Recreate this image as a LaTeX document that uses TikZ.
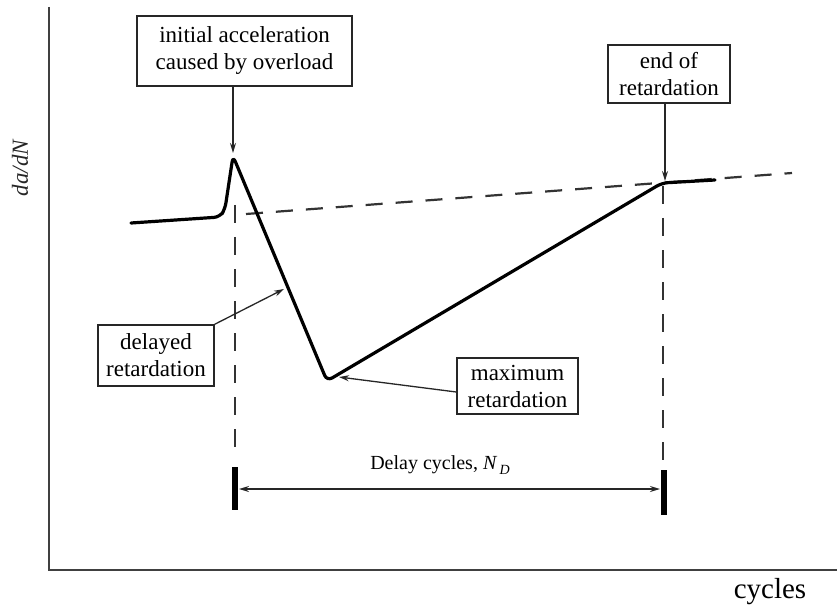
\documentclass[tikz,border=0pt]{standalone}
\usepackage{fontspec}
\setmainfont{Liberation Serif}
\usetikzlibrary{arrows.meta}
\begin{document}
\begin{tikzpicture}[x=1pt,y=-1pt,
  lbl/.style={draw=black!85, line width=1.5pt, align=center, inner sep=0pt,
    font=\fontsize{23}{27}\selectfont},
  pointer/.style={line width=1.3pt, draw=black!85, -{Stealth[length=10pt,width=6pt]}},
  curve/.style={line width=3.2pt, line join=round, line cap=round},
  dashln/.style={line width=2.2pt, draw=black!80, dash pattern=on 17pt off 13pt},
  bar/.style={line width=5.5pt},
  axis/.style={line width=2pt, draw=black!75}]
\fill[white] (0,0) rectangle (837,612);
\useasboundingbox (0,0) rectangle (837,612);
% axes
\coordinate (ytop) at (49,7);
\coordinate (orig) at (49,570);
\coordinate (xend) at (837,570);
\draw[axis] (ytop) -- (orig) -- (xend);
\node[rotate=90, font=\fontsize{23}{23}\selectfont\itshape, text=black!85] (ylab) at (20,168) {da/dN};
\node[font=\fontsize{29}{29}\selectfont] (xlab) at (770,592) {cycles};
% reference dashed line
\coordinate (d1) at (246,214);
\coordinate (d2) at (792,173);
\draw[dashln] (d1) -- (d2);
% vertical dashed lines
\coordinate (v1t) at (235,205);
\coordinate (v1b) at (235,455);
\coordinate (v2t) at (663,186);
\coordinate (v2b) at (663,460);
\draw[dashln, dash pattern=on 18pt off 14pt, line width=2pt] (v1t) -- (v1b);
\draw[dashln, dash pattern=on 18pt off 14pt, line width=2pt] (v2t) -- (v2b);
% curve
\coordinate (c0) at (131,223);
\coordinate (c1) at (220,217);
\coordinate (c2) at (225,209);
\coordinate (peak) at (233,156);
\coordinate (bottom) at (327,381);
\coordinate (endret) at (662,183);
\coordinate (c6) at (715,180);
\draw[curve, rounded corners=6pt] (c0) -- (c1) -- (c2) -- (peak) -- (bottom) -- (endret) -- (c6);
% bars and delay arrow
\coordinate (b1t) at (235,467);
\coordinate (b1b) at (235,510);
\coordinate (b2t) at (664,470);
\coordinate (b2b) at (664,515);
\draw[bar] (b1t) -- (b1b);
\draw[bar] (b2t) -- (b2b);
\coordinate (a1) at (239,489);
\coordinate (a2) at (660,489);
\draw[line width=1.5pt, draw=black!85, {Stealth[length=10pt,width=6pt]}-{Stealth[length=10pt,width=6pt]}] (a1) -- (a2);
\node[font=\fontsize{20}{20}\selectfont] (delay) at (440,465) {Delay cycles, \textit{N}\raisebox{-0.6ex}{\fontsize{14}{14}\selectfont\,\textit{D}}};
% labels
\node[lbl, minimum width=215pt, minimum height=70pt] (init) at (244.5,51) {initial acceleration\\caused by overload};
\node[lbl, minimum width=122pt, minimum height=58pt] (endbox) at (669,74) {end of\\retardation};
\node[lbl, minimum width=116pt, minimum height=61pt] (delayed) at (156,355.5) {delayed\\retardation};
\node[lbl, minimum width=121pt, minimum height=56pt] (maxret) at (517.5,386) {maximum\\retardation};
% pointers
\coordinate (pinit) at (233,153);
\coordinate (pend) at (665,181);
\coordinate (pdel) at (284,289);
\coordinate (pmax) at (339,377);
\draw[pointer] (init.south -| pinit) -- (pinit);
\draw[pointer] (endbox.south -| pend) -- (pend);
\draw[pointer] (delayed.north east) -- (pdel);
\draw[pointer] ([yshift=-6pt]maxret.west) -- (pmax);
\end{tikzpicture}
\end{document}
